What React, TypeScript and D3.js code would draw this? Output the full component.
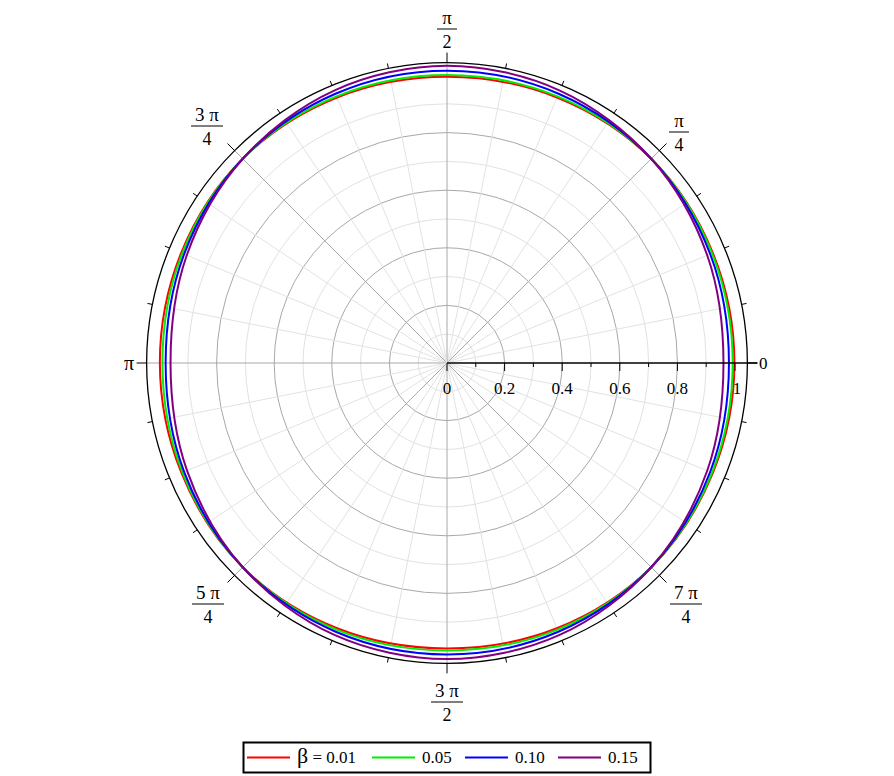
import React from "react";
import * as d3 from "d3";

// sample angles (degrees) at which the curve radii were read
const angles = [0, 22.5, 45, 67.5, 90, 112.5, 135, 157.5, 180, 202.5, 225, 247.5, 270, 292.5, 315, 337.5];

const betaLabels = ["β = 0.01", "0.05", "0.10", "0.15"];
const seriesColors = ["#ff0000", "#00ee00", "#0000ff", "#800080"];

const r001 = [0.998, 0.999, 1.003, 0.998, 0.994, 0.998, 1.003, 0.999, 0.997, 0.998, 1.003, 0.997, 0.991, 0.997, 1.003, 0.999];
const r005 = [0.992, 0.996, 1.003, 1.002, 1.0, 1.002, 1.003, 0.995, 0.988, 0.994, 1.003, 1.002, 0.998, 1.002, 1.003, 0.996];
const r010 = [0.979, 0.989, 1.003, 1.012, 1.015, 1.012, 1.003, 0.988, 0.977, 0.988, 1.003, 1.01, 1.012, 1.01, 1.003, 0.989];
const r015 = [0.96, 0.978, 1.003, 1.024, 1.032, 1.024, 1.003, 0.978, 0.96, 0.977, 1.003, 1.022, 1.028, 1.022, 1.003, 0.978];
const seriesRadii = [r001, r005, r010, r015];

const radialTicks = [0, 0.2, 0.4, 0.6, 0.8, 1];
const rMax = 1.043;

const W = 894;
const H = 776;
const cx = 447;
const cy = 363;

const r = d3.scaleLinear().domain([0, 1]).range([0, 288]);

// polar (math convention) -> screen
const pt = (theta: number, rad: number): [number, number] => [
  cx + r(rad) * Math.cos(theta),
  cy - r(rad) * Math.sin(theta),
];

const FONT = "'Liberation Serif', 'Times New Roman', serif";

export default function App() {
  // lineRadial measures angle clockwise from 12 o'clock
  const line = d3
    .lineRadial<number>()
    .angle((_, i) => Math.PI / 2 - (angles[i] * Math.PI) / 180)
    .radius((d) => r(d))
    .curve(d3.curveCatmullRomClosed);

  const gridCircles = d3.range(1, 10).map((k) => k / 10);
  const spokes = d3.range(0, 32);

  const fracLabels = [
    { a: 90, x: 447, y: 18, num: "π", den: "2" },
    { a: 45, x: 679, y: 121, num: "π", den: "4" },
    { a: 135, x: 207, y: 115, num: "3 π", den: "4" },
    { a: 225, x: 208, y: 593, num: "5 π", den: "4" },
    { a: 315, x: 686, y: 593, num: "7 π", den: "4" },
    { a: 270, x: 447, y: 691, num: "3 π", den: "2" },
  ];

  const legX = [247, 372, 465, 558];

  return (
    <svg
      width={W}
      height={H}
      style={{ position: "absolute", left: 0, top: 0, background: "#fff" }}
      fontFamily={FONT}
    >
      {/* grid circles */}
      {gridCircles.map((g) => (
        <circle
          key={g}
          cx={cx}
          cy={cy}
          r={r(g)}
          fill="none"
          stroke={Math.round(g * 10) % 2 === 0 ? "#a8a8a8" : "#e2e2e2"}
          strokeWidth={1}
        />
      ))}
      {/* spokes */}
      {spokes.map((k) => {
        if (k === 0) return null;
        const th = (k * Math.PI) / 16;
        const major = k % 4 === 0;
        const [x2, y2] = pt(th, major ? rMax : 1);
        return (
          <line
            key={k}
            x1={cx}
            y1={cy}
            x2={x2}
            y2={y2}
            stroke={major ? "#a8a8a8" : "#e2e2e2"}
            strokeWidth={1}
          />
        );
      })}
      {/* outer circle */}
      <circle cx={cx} cy={cy} r={r(rMax)} fill="none" stroke="#000" strokeWidth={1.3} />
      {/* angular ticks */}
      {spokes.map((k) => {
        const th = (k * Math.PI) / 16;
        const major = k % 4 === 0;
        const r0 = r(rMax);
        const r1 = r0 + (major ? 10 : 5);
        return (
          <line
            key={"t" + k}
            x1={cx + r0 * Math.cos(th)}
            y1={cy - r0 * Math.sin(th)}
            x2={cx + r1 * Math.cos(th)}
            y2={cy - r1 * Math.sin(th)}
            stroke="#000"
            strokeWidth={1}
          />
        );
      })}
      {/* curves */}
      <g transform={`translate(${cx},${cy})`}>
        {seriesRadii.map((s, i) => (
          <path key={i} d={line(s) || ""} fill="none" stroke={seriesColors[i]} strokeWidth={2} />
        ))}
      </g>
      {/* radial axis */}
      <line x1={cx} y1={cy} x2={cx + r(rMax) + 10} y2={cy} stroke="#000" strokeWidth={1.3} />
      {d3.range(0, 11).map((k) => {
        const x = cx + r(k / 10);
        return (
          <line key={"rt" + k} x1={x} y1={cy} x2={x} y2={cy + (k % 2 === 0 ? 8 : 4)} stroke="#000" strokeWidth={1} />
        );
      })}
      {radialTicks.map((t) => (
        <text key={"rl" + t} x={cx + r(t) + (t === 1 ? 2 : 0)} y={cy + 31} fontSize={17} textAnchor="middle">
          {d3.format("")(t)}
        </text>
      ))}
      {/* angular labels */}
      <text x={759} y={cy + 6} fontSize={17}>0</text>
      <text x={134} y={cy + 7} fontSize={20} textAnchor="end">π</text>
      {fracLabels.map((f) => (
        <g key={f.a}>
          <text x={f.x} y={f.y + 6} fontSize={19} textAnchor="middle">{f.num}</text>
          <line
            x1={f.x - (f.num.length > 1 ? 16 : 10)}
            x2={f.x + (f.num.length > 1 ? 16 : 10)}
            y1={f.y + 11}
            y2={f.y + 11}
            stroke="#000"
            strokeWidth={1}
          />
          <text x={f.x} y={f.y + 30} fontSize={18} textAnchor="middle">{f.den}</text>
        </g>
      ))}
      {/* legend */}
      <rect x={243.5} y={742.5} width={407} height={30} fill="#fff" stroke="#000" strokeWidth={2} />
      {betaLabels.map((lab, i) => (
        <g key={i}>
          <line x1={legX[i]} x2={legX[i] + 43} y1={757.5} y2={757.5} stroke={seriesColors[i]} strokeWidth={2} />
          <text x={legX[i] + 50} y={763} fontSize={17}>
            {i === 0 ? (
              <>
                <tspan fontSize={22}>β</tspan>
                <tspan> = 0.01</tspan>
              </>
            ) : (
              lab
            )}
          </text>
        </g>
      ))}
    </svg>
  );
}
